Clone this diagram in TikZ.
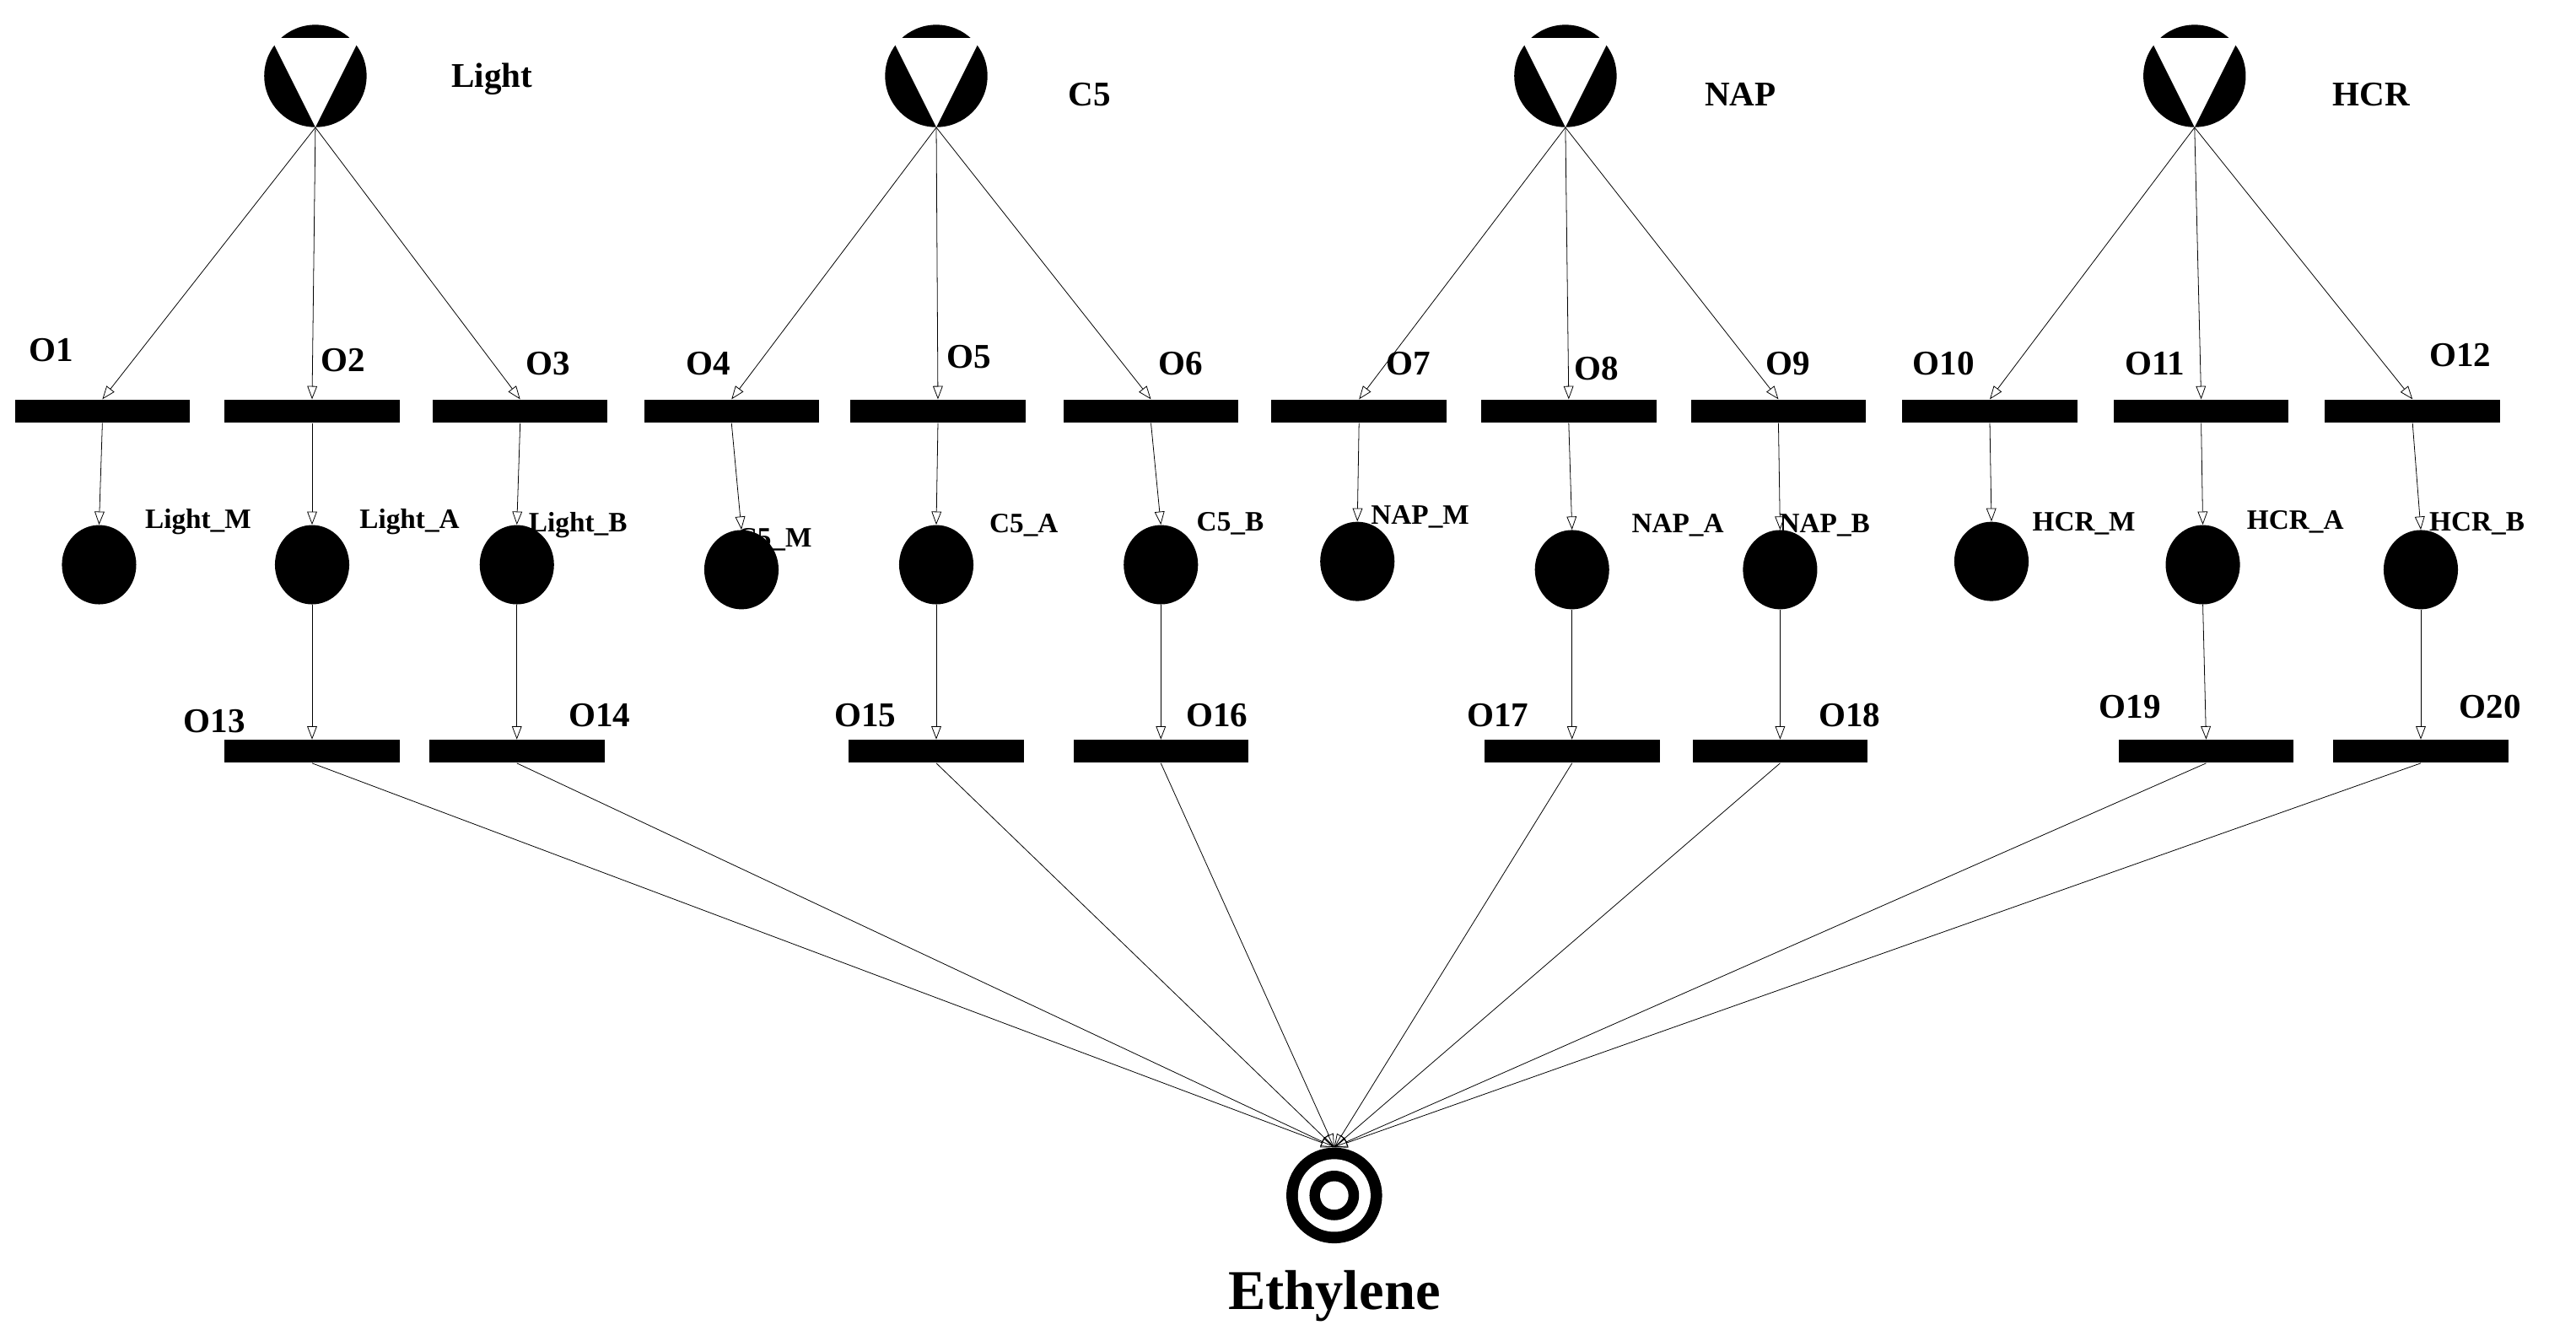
\documentclass[tikz,border=0pt]{standalone}
\usepackage{fontspec}
\setmainfont{Liberation Serif}
\usetikzlibrary{arrows.meta,shapes.geometric}
\begin{document}
\begin{tikzpicture}[x=1pt,y=-1pt,
  bar/.style={fill=black,minimum width=106pt,minimum height=14pt,inner sep=0pt},
  place/.style={ellipse,fill=black,minimum width=45pt,minimum height=48pt,inner sep=0pt},
  lbl/.style={font=\bfseries\fontsize{21}{21}\selectfont,inner sep=0pt},
  plbl/.style={font=\bfseries\fontsize{17}{17}\selectfont,inner sep=0pt},
  arr/.style={draw,line width=0.4pt,-{Triangle[open,length=8pt,width=6pt]}},
  src/.style={circle,minimum size=62pt,inner sep=0pt}]
\useasboundingbox (0,0) rectangle (1560,809);
% sources
\foreach \n/\x in {S1/191,S2/567,S3/948,S4/1329}{
  \fill (\x,46) circle (31);
  \fill[white] (\x-27,23) -- (\x+27,23) -- (\x,77) -- cycle;
  \node[src] (\n) at (\x,46) {};
}
\node[lbl] at (298,48) {Light};
\node[lbl] at (660,57) {C5};
\node[lbl] at (1054,57) {NAP};
\node[lbl] at (1436,57) {HCR};
% row 1 bars
\foreach \i/\x in {1/62,2/189,3/315,4/443,5/568,6/697,7/823,8/950,9/1077,10/1205,11/1333,12/1461}{
  \node[bar] (T\i) at (\x,249) {};
}
\foreach \i/\x/\y in {1/31/212,2/208/218,3/332/220,4/429/220,5/587/216,6/715/220,7/853/220,8/967/223,9/1083/220,10/1177/220,11/1305/220,12/1490/215}{
  \node[lbl] at (\x,\y) {O\i};
}
% places
\foreach \i/\x/\y in {1/60/342,2/189/342,3/313/342,4/449/345,5/567/342,6/703/342,7/822/340,8/952/345,9/1078/345,10/1206/340,11/1334/342,12/1466/345}{
  \node[place] (P\i) at (\x,\y) {};
}
\foreach \t/\x/\y in {Light\_M/120/316,Light\_A/248/316,Light\_B/350/318,C5\_M/469/327,C5\_A/620/318,C5\_B/745/317,NAP\_M/860/313,NAP\_A/1016/318,NAP\_B/1105/318,HCR\_M/1262/317,HCR\_A/1390/316,HCR\_B/1500/317}{
  \node[plbl] at (\x,\y) {\t};
}
% row 2 bars
\foreach \i/\x in {13/189,14/313,15/567,16/703,17/952,18/1078,19/1336,20/1466}{
  \node[bar] (T\i) at (\x,455) {};
}
\foreach \i/\x/\y in {13/130/437,14/363/433,15/524/433,16/737/433,17/907/433,18/1120/433,19/1290/428,20/1508/428}{
  \node[lbl] at (\x,\y) {O\i};
}
% target
\fill (808,724) circle (29);
\fill[white] (808,724) circle (22);
\fill (808,724) circle (15);
\fill[white] (808,724) circle (8.6);
\node[circle,minimum size=58pt,inner sep=0pt] (E) at (808,724) {};
\node[font=\bfseries\fontsize{34}{34}\selectfont] at (808,785) {Ethylene};
% arcs
\foreach \s/\a/\b/\c in {S1/1/2/3,S2/4/5/6,S3/7/8/9,S4/10/11/12}{
  \draw[arr] (\s.south) -- (T\a.north);
  \draw[arr] (\s.south) -- (T\b.north);
  \draw[arr] (\s.south) -- (T\c.north);
}
\foreach \i in {1,...,12}{ \draw[arr] (T\i.south) -- (P\i.north); }
\foreach \p/\t in {2/13,3/14,5/15,6/16,8/17,9/18,11/19,12/20}{
  \draw[arr] (P\p.south) -- (T\t.north);
  \draw[arr] (T\t.south) -- (E.north);
}
\end{tikzpicture}
\end{document}
